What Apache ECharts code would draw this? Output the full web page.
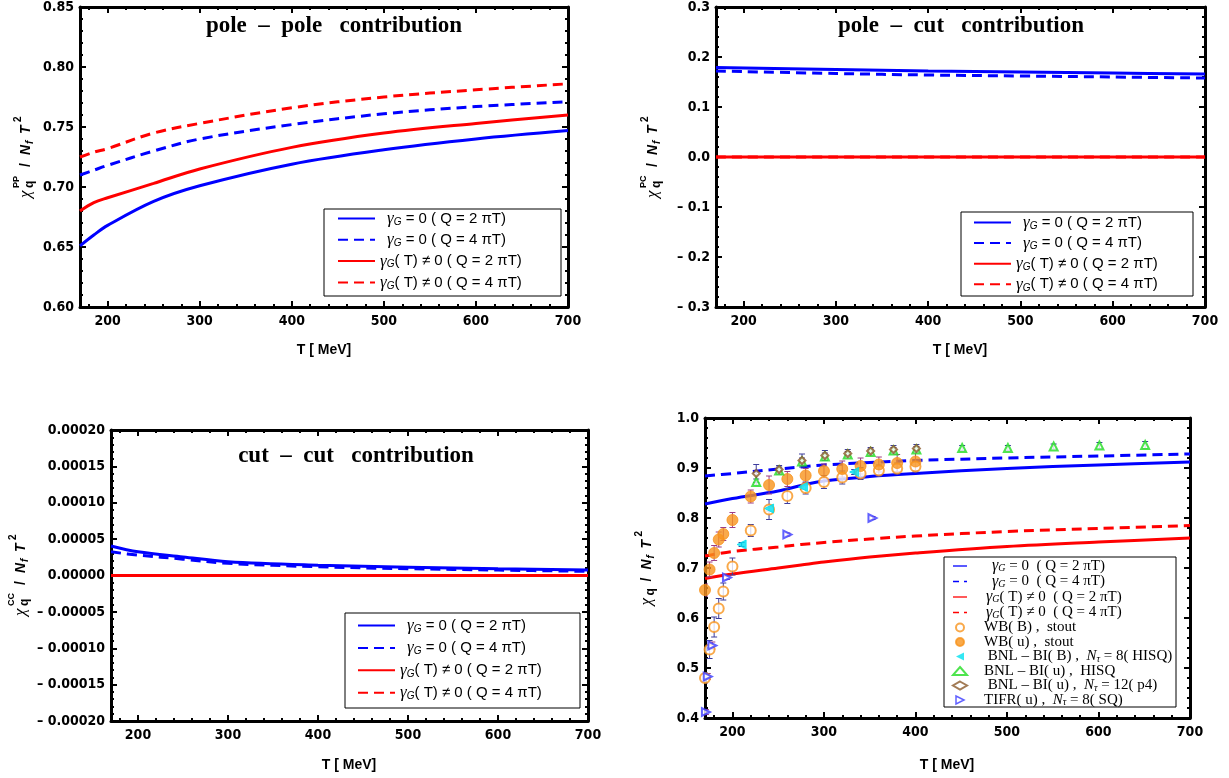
<!DOCTYPE html>
<html><head><meta charset="utf-8">
<script src="https://cdn.jsdelivr.net/npm/echarts@6/dist/echarts.min.js"></script>
<style>html,body{margin:0;padding:0;background:#fff}#c{width:1229px;height:778px}</style>
</head><body><div id="c"></div>
<script>
// ---------------- DATA ----------------
const X_MAJOR = [200, 300, 400, 500, 600, 700];
const Y_TICKS_PP = [0.60, 0.65, 0.70, 0.75, 0.80, 0.85];
const Y_TICKS_PC = [-0.3, -0.2, -0.1, 0.0, 0.1, 0.2, 0.3];
const Y_TICKS_CC = [-0.0002, -0.00015, -0.0001, -0.00005, 0, 0.00005, 0.0001, 0.00015, 0.0002];
const Y_TICKS_TOT = [0.4, 0.5, 0.6, 0.7, 0.8, 0.9, 1.0];

// pole-pole
const T_PP = [170, 185, 200, 250, 300, 400, 500, 600, 700];
const pp_blue_Q2 = [0.651, 0.660, 0.668, 0.688, 0.701, 0.719, 0.731, 0.740, 0.747];
const pp_blue_Q4 = [0.710, 0.714, 0.718, 0.730, 0.740, 0.752, 0.761, 0.767, 0.771];
const pp_red_Q2  = [0.680, 0.687, 0.691, 0.703, 0.715, 0.733, 0.745, 0.753, 0.760];
const pp_red_Q4  = [0.725, 0.729, 0.732, 0.745, 0.753, 0.766, 0.775, 0.781, 0.786];
// pole-cut
const T_PC = [170, 300, 400, 500, 600, 700];
const pc_blue_Q2 = [0.179, 0.175, 0.172, 0.170, 0.168, 0.166];
const pc_blue_Q4 = [0.172, 0.167, 0.164, 0.162, 0.160, 0.158];
const pc_red_Q2  = [0, 0, 0, 0, 0, 0];
const pc_red_Q4  = [0, 0, 0, 0, 0, 0];
// cut-cut
const T_CC = [170, 200, 250, 300, 400, 500, 600, 700];
const cc_blue_Q2 = [4.05e-5, 3.25e-5, 2.55e-5, 1.90e-5, 1.42e-5, 1.15e-5, 0.93e-5, 0.75e-5];
const cc_blue_Q4 = [3.25e-5, 2.80e-5, 2.25e-5, 1.67e-5, 1.20e-5, 0.93e-5, 0.74e-5, 0.57e-5];
const cc_red_Q2  = [0, 0, 0, 0, 0, 0, 0, 0];
const cc_red_Q4  = [0, 0, 0, 0, 0, 0, 0, 0];
// total
const T_TOT = [170, 200, 250, 275, 300, 350, 400, 500, 600, 700];
const tot_blue_Q2 = [0.828, 0.839, 0.854, 0.865, 0.874, 0.883, 0.889, 0.899, 0.906, 0.912];
const tot_blue_Q4 = [0.884, 0.889, 0.898, 0.902, 0.906, 0.911, 0.915, 0.920, 0.924, 0.928];
const tot_red_Q2  = [0.679, 0.688, 0.700, 0.706, 0.712, 0.722, 0.730, 0.743, 0.752, 0.760];
const tot_red_Q4  = [0.724, 0.733, 0.742, 0.747, 0.751, 0.758, 0.764, 0.773, 0.779, 0.785];

// lattice data
const wbB_T   = [170, 175, 180, 185, 190, 200, 220, 240, 260, 280, 300, 320, 340, 360, 380, 400];
const wbB_val = [0.480, 0.537, 0.582, 0.619, 0.653, 0.703, 0.775, 0.817, 0.844, 0.860, 0.872, 0.881, 0.889, 0.895, 0.899, 0.903];
const wbB_err = [0.010, 0.018, 0.020, 0.020, 0.017, 0.017, 0.012, 0.020, 0.015, 0.012, 0.013, 0.013, 0.012, 0.011, 0.011, 0.011];
const wbU_T   = [170, 175, 180, 185, 190, 200, 220, 240, 260, 280, 300, 320, 340, 360, 380, 400];
const wbU_val = [0.656, 0.697, 0.730, 0.757, 0.768, 0.796, 0.843, 0.866, 0.878, 0.885, 0.894, 0.898, 0.904, 0.907, 0.910, 0.913];
const wbU_err = [0.012, 0.015, 0.015, 0.015, 0.013, 0.015, 0.013, 0.018, 0.015, 0.014, 0.014, 0.016, 0.016, 0.015, 0.017, 0.018];
const bnlB_T   = [210, 240, 277, 333];
const bnlB_val = [0.747, 0.819, 0.862, 0.892];
const bnlB_err = [0.004, 0.005, 0.005, 0.005];
const hisq_T   = [226, 251, 276, 301, 326, 351, 376, 401, 451, 501, 551, 601, 651];
const hisq_val = [0.872, 0.895, 0.913, 0.923, 0.927, 0.932, 0.935, 0.937, 0.940, 0.940, 0.943, 0.945, 0.946];
const hisq_err = [0.006, 0.007, 0.007, 0.007, 0.006, 0.006, 0.006, 0.006, 0.005, 0.005, 0.005, 0.006, 0.007];
const p4_T   = [226, 251, 276, 301, 326, 351, 376, 401];
const p4_val = [0.889, 0.897, 0.915, 0.925, 0.929, 0.934, 0.937, 0.939];
const p4_err = [0.018, 0.008, 0.013, 0.010, 0.008, 0.007, 0.008, 0.008];
const tifr_T   = [171, 173, 178, 194, 260, 353];
const tifr_val = [0.412, 0.483, 0.545, 0.681, 0.767, 0.800];
const tifr_err = [0.005, 0.006, 0.007, 0.004, 0.003, 0.003];

// ---------------- HELPERS ----------------
const NUM_FONT = '"Liberation Sans Narrow", "DejaVu Sans Condensed", "Liberation Sans", Arial, sans-serif';
const SANS = '"Liberation Sans", Arial, sans-serif';
const SERIF = '"Liberation Serif", "Times New Roman", serif';
const BLUE = '#0000ff', RED = '#ff0000';
const DASH = [10, 6];

function zip(xs, ys) { return xs.map((x, i) => [x, ys[i]]); }
function zip3(xs, ys, es) { return xs.map((x, i) => [x, ys[i], es[i]]); }
function minorTicks(min, max, step, majors) {
  const out = []; const n = Math.round((max - min) / step);
  for (let i = 0; i <= n; i++) {
    const v = +(min + i * step).toPrecision(10);
    if (!majors.some(m => Math.abs(m - v) < step / 10)) out.push(v);
  }
  return out;
}
const X_MINOR = minorTicks(180, 700, 20, X_MAJOR);
const negFmt = d => v => (v < -1e-12 ? '\u2013 ' + (-v).toFixed(d) : Math.abs(v).toFixed(d));

const panels = [
  { grid: { left: 80, top: 7, width: 488, height: 300 }, min: 0.6, max: 0.85, major: Y_TICKS_PP, minor: minorTicks(0.6, 0.85, 0.01, Y_TICKS_PP), fmt: negFmt(2) },
  { grid: { left: 716, top: 7, width: 489, height: 300 }, min: -0.3, max: 0.3, major: Y_TICKS_PC, minor: minorTicks(-0.3, 0.3, 0.02, Y_TICKS_PC), fmt: negFmt(1) },
  { grid: { left: 111, top: 430, width: 477, height: 291 }, min: -0.0002, max: 0.0002, major: Y_TICKS_CC, minor: minorTicks(-0.0002, 0.0002, 0.00001, Y_TICKS_CC), fmt: negFmt(5) },
  { grid: { left: 705, top: 418, width: 485, height: 300 }, min: 0.4, max: 1.0, major: Y_TICKS_TOT, minor: minorTicks(0.4, 1.0, 0.02, Y_TICKS_TOT), fmt: negFmt(1) }
];

const grid = [], xAxis = [], yAxis = [];
const lineMain = { show: true, onZero: false, lineStyle: { color: '#000', width: 3 } };
const tickStyle = { color: '#000', width: 2 };
panels.forEach((p, g) => {
  grid.push(Object.assign({ outerBoundsMode: 'none', containLabel: false }, p.grid));
  const xb = { type: 'value', gridIndex: g, min: 170, max: 700, splitLine: { show: false } };
  xAxis.push(Object.assign({}, xb, { position: 'bottom', axisLine: lineMain,
    axisTick: { show: true, inside: true, length: 6, lineStyle: tickStyle, customValues: X_MAJOR },
    axisLabel: { show: true, customValues: X_MAJOR, margin: 7, color: '#000', fontWeight: 'bold', fontSize: 14, fontFamily: NUM_FONT } }));
  xAxis.push(Object.assign({}, xb, { position: 'bottom', axisLine: { show: false, onZero: false },
    axisTick: { show: true, inside: true, length: 3, lineStyle: tickStyle, customValues: X_MINOR }, axisLabel: { show: false } }));
  xAxis.push(Object.assign({}, xb, { position: 'top', axisLine: lineMain,
    axisTick: { show: true, inside: true, length: 6, lineStyle: tickStyle, customValues: X_MAJOR }, axisLabel: { show: false } }));
  xAxis.push(Object.assign({}, xb, { position: 'top', axisLine: { show: false, onZero: false },
    axisTick: { show: true, inside: true, length: 3, lineStyle: tickStyle, customValues: X_MINOR }, axisLabel: { show: false } }));

  const yb = { type: 'value', gridIndex: g, min: p.min, max: p.max, splitLine: { show: false } };
  yAxis.push(Object.assign({}, yb, { position: 'left', axisLine: lineMain,
    axisTick: { show: true, inside: true, length: 6, lineStyle: tickStyle, customValues: p.major },
    axisLabel: { show: true, customValues: p.major, margin: 6, color: '#000', fontWeight: 'bold', fontSize: 14, fontFamily: NUM_FONT, formatter: p.fmt } }));
  yAxis.push(Object.assign({}, yb, { position: 'left', axisLine: { show: false, onZero: false },
    axisTick: { show: true, inside: true, length: 3, lineStyle: tickStyle, customValues: p.minor }, axisLabel: { show: false } }));
  yAxis.push(Object.assign({}, yb, { position: 'right', axisLine: lineMain,
    axisTick: { show: true, inside: true, length: 6, lineStyle: tickStyle, customValues: p.major }, axisLabel: { show: false } }));
  yAxis.push(Object.assign({}, yb, { position: 'right', axisLine: { show: false, onZero: false },
    axisTick: { show: true, inside: true, length: 3, lineStyle: tickStyle, customValues: p.minor }, axisLabel: { show: false } }));
});

function curve(name, g, T, V, color, dashed) {
  return { name, type: 'line', xAxisIndex: g * 4, yAxisIndex: g * 4, data: zip(T, V), showSymbol: false,
    smooth: 0.35, symbol: 'none', z: 3, lineStyle: { color, width: 3, type: dashed ? DASH : 'solid' }, itemStyle: { color } };
}
function errBars(name, T, V, E, color) {
  return { name, type: 'custom', xAxisIndex: 12, yAxisIndex: 12, data: zip3(T, V, E), clip: true, z: 4,
    encode: { x: 0, y: 1 },
    renderItem: function (params, api) {
      const x = api.value(0), y = api.value(1), e = api.value(2);
      const a = api.coord([x, y + e]), b = api.coord([x, y - e]);
      const w = 3, st = { stroke: color, lineWidth: 1 };
      return { type: 'group', children: [
        { type: 'line', shape: { x1: a[0], y1: a[1], x2: b[0], y2: b[1] }, style: st },
        { type: 'line', shape: { x1: a[0] - w, y1: a[1], x2: a[0] + w, y2: a[1] }, style: st },
        { type: 'line', shape: { x1: b[0] - w, y1: b[1], x2: b[0] + w, y2: b[1] }, style: st } ] };
    } };
}
function pts(name, T, V, symbol, size, color, rotate) {
  return { name, type: 'scatter', xAxisIndex: 12, yAxisIndex: 12, data: zip(T, V), symbol, symbolSize: size,
    symbolRotate: rotate || 0, clip: true, z: 5, itemStyle: { color, borderColor: color, borderWidth: 1 } };
}

const series = [
  curve('pp1', 0, T_PP, pp_blue_Q2, BLUE, false), curve('pp2', 0, T_PP, pp_blue_Q4, BLUE, true),
  curve('pp3', 0, T_PP, pp_red_Q2, RED, false), curve('pp4', 0, T_PP, pp_red_Q4, RED, true),
  curve('pc1', 1, T_PC, pc_blue_Q2, BLUE, false), curve('pc2', 1, T_PC, pc_blue_Q4, BLUE, true),
  curve('pc3', 1, T_PC, pc_red_Q2, RED, false), curve('pc4', 1, T_PC, pc_red_Q4, RED, true),
  curve('cc1', 2, T_CC, cc_blue_Q2, BLUE, false), curve('cc2', 2, T_CC, cc_blue_Q4, BLUE, true),
  curve('cc3', 2, T_CC, cc_red_Q2, RED, false), curve('cc4', 2, T_CC, cc_red_Q4, RED, true),
  curve('tt1', 3, T_TOT, tot_blue_Q2, BLUE, false), curve('tt2', 3, T_TOT, tot_blue_Q4, BLUE, true),
  curve('tt3', 3, T_TOT, tot_red_Q2, RED, false), curve('tt4', 3, T_TOT, tot_red_Q4, RED, true),
  errBars('e_wbB', wbB_T, wbB_val, wbB_err, '#3d3d9e'),
  errBars('e_wbU', wbU_T, wbU_val, wbU_err, '#9c3d86'),
  errBars('e_bnlB', bnlB_T, bnlB_val, bnlB_err, '#3d3d9e'),
  errBars('e_hisq', hisq_T, hisq_val, hisq_err, '#3d3d9e'),
  errBars('e_p4', p4_T, p4_val, p4_err, '#3d3d9e'),
  errBars('e_tifr', tifr_T, tifr_val, tifr_err, '#9c3d86'),
  pts('wbB', wbB_T, wbB_val, 'emptyCircle', 10, '#f7941d'),
  pts('wbU', wbU_T, wbU_val, 'circle', 11, '#f7941d'),
  pts('bnlB', bnlB_T, bnlB_val, 'triangle', 9, '#00e1f0', 90),
  pts('hisq', hisq_T, hisq_val, 'emptyTriangle', 8, '#22dd22'),
  pts('p4', p4_T, p4_val, 'emptyDiamond', 7, '#8b5a2b'),
  pts('tifr', tifr_T, tifr_val, 'emptyTriangle', 8, '#3a3aff', -90)
];

// legends
const RICH_SANS = {
  t: { fontFamily: SANS, fontSize: 15, color: '#000', lineHeight: 18 },
  g: { fontFamily: SERIF, fontStyle: 'italic', fontSize: 17, color: '#000', lineHeight: 18 },
  s: { fontFamily: SANS, fontStyle: 'italic', fontSize: 10, color: '#000', lineHeight: 10, padding: [7, 0, 0, 0] },
  p: { width: 7 }
};
const RICH_SERIF = {
  t: { fontFamily: SERIF, fontSize: 15, color: '#000', lineHeight: 14 },
  g: { fontFamily: SERIF, fontStyle: 'italic', fontSize: 16, color: '#000', lineHeight: 14 },
  i: { fontFamily: SERIF, fontStyle: 'italic', fontSize: 15, color: '#000', lineHeight: 14 },
  s: { fontFamily: SERIF, fontStyle: 'italic', fontSize: 10, color: '#000', lineHeight: 9, padding: [5, 0, 0, 0] },
  p: { width: 12 }, q: { width: 20 }, r: { width: 14 }
};
const TXT_A = {
  1: '{p| }{g|\u03b3}{s|G}{t| = 0 ( Q = 2 \u03c0T)}',
  2: '{p| }{g|\u03b3}{s|G}{t| = 0 ( Q = 4 \u03c0T)}',
  3: '{g|\u03b3}{s|G}{t|( T) \u2260 0 ( Q = 2 \u03c0T)}',
  4: '{g|\u03b3}{s|G}{t|( T) \u2260 0 ( Q = 4 \u03c0T)}'
};
const TXT_B = {
  tt1: '{q| }{g|\u03b3}{s|G}{t| = 0  ( Q = 2 \u03c0T)}',
  tt2: '{q| }{g|\u03b3}{s|G}{t| = 0  ( Q = 4 \u03c0T)}',
  tt3: '{r| }{g|\u03b3}{s|G}{t|( T) \u2260 0  ( Q = 2 \u03c0T)}',
  tt4: '{r| }{g|\u03b3}{s|G}{t|( T) \u2260 0  ( Q = 4 \u03c0T)}',
  wbB: '{p| }{t|WB( B) ,  stout}',
  wbU: '{p| }{t|WB( u) ,  stout}',
  bnlB: '{p| }{t| BNL \u2013 BI( B) ,  }{i|N}{s|\u03c4}{t| = 8( HISQ)}',
  hisq: '{p| }{t|BNL \u2013 BI( u) ,  HISQ}',
  p4: '{p| }{t| BNL \u2013 BI( u) ,  }{i|N}{s|\u03c4}{t| = 12( p4)}',
  tifr: '{p| }{t|TIFR( u) ,  }{i|N}{s|\u03c4}{t| = 8( SQ)}'
};
const HIDE_SYM = { opacity: 0 };
function legendA(prefix, left, top, gap) {
  return { show: true, orient: 'vertical', left, top, padding: 0, itemWidth: 37, itemHeight: 14, itemGap: gap,
    selectedMode: false, data: [1, 2, 3, 4].map(i => ({ name: prefix + i, itemStyle: HIDE_SYM })),
    formatter: n => TXT_A[n.slice(-1)], textStyle: { rich: RICH_SANS } };
}
const legend = [
  legendA('pp', 337, 210, 4.3),
  legendA('pc', 973, 214, 3.6),
  legendA('cc', 357, 617, 5.4),
  { show: true, orient: 'vertical', left: 952, top: 558, padding: 0, itemWidth: 14, itemHeight: 8, itemGap: -0.5,
    selectedMode: false,
    data: [
      { name: 'tt1', lineStyle: { color: BLUE, width: 1.3, type: 'solid' }, itemStyle: HIDE_SYM },
      { name: 'tt2', lineStyle: { color: BLUE, width: 1.3, type: [6, 5] }, itemStyle: HIDE_SYM },
      { name: 'tt3', lineStyle: { color: RED, width: 1.3, type: 'solid' }, itemStyle: HIDE_SYM },
      { name: 'tt4', lineStyle: { color: RED, width: 1.3, type: [6, 5] }, itemStyle: HIDE_SYM },
      'wbB', 'wbU',
      { name: 'bnlB', icon: 'path://M0,5L10,0L10,10Z', itemStyle: { color: '#00e1f0', borderWidth: 0 } },
      'hisq', 'p4',
      { name: 'tifr', icon: 'path://M10,5L0,0L0,10Z', itemStyle: { color: '#ffffff', borderColor: '#3a3aff', borderWidth: 1.5 } }],
    formatter: n => TXT_B[n], textStyle: { rich: RICH_SERIF } }
];

// y-axis names (rotated, composed)
function yName(cx, cy, sup) {
  const parts = sup ? [
    { t: '\u03c7', x: 0, y: 0, f: 'italic 17px ' + SERIF },
    { t: 'q', x: 10, y: 4, f: 'bold 12px ' + SANS },
    { t: sup, x: 10, y: -9, f: 'bold 9px ' + SANS },
    { t: '/', x: 31, y: 0, f: 'bold 14px ' + SANS },
    { t: 'N', x: 43, y: 0, f: 'bold italic 14px ' + SANS },
    { t: 'f', x: 54, y: 4, f: 'bold italic 10px ' + SANS },
    { t: 'T', x: 64, y: 0, f: 'bold italic 14px ' + SANS },
    { t: '2', x: 76, y: -8, f: 'bold 10px ' + SANS }
  ] : [
    { t: '\u03c7', x: 0, y: 0, f: 'italic 17px ' + SERIF },
    { t: 'q', x: 10, y: 4, f: 'bold 12px ' + SANS },
    { t: '/', x: 24, y: 0, f: 'bold 14px ' + SANS },
    { t: 'N', x: 36, y: 0, f: 'bold italic 14px ' + SANS },
    { t: 'f', x: 47, y: 4, f: 'bold italic 10px ' + SANS },
    { t: 'T', x: 57, y: 0, f: 'bold italic 14px ' + SANS },
    { t: '2', x: 69, y: -8, f: 'bold 10px ' + SANS }
  ];
  const L = sup ? 82 : 75;
  return { type: 'group', x: cx, y: cy, rotation: Math.PI / 2, z: 10,
    children: parts.map(p => ({ type: 'text', x: p.x - L / 2, y: p.y,
      style: { text: p.t, font: p.f, fill: '#000', align: 'left', verticalAlign: 'middle' } })) };
}
function txt(x, y, text, font) {
  return { type: 'text', x, y, z: 10, style: { text, font, fill: '#000', align: 'center', verticalAlign: 'middle' } };
}
const TITLE_FONT = 'bold 23px ' + SERIF;
const XN_FONT = 'bold 14px ' + SANS;
const graphic = [
  txt(334, 26, 'pole  \u2013  pole   contribution', TITLE_FONT),
  txt(961, 26, 'pole  \u2013  cut   contribution', TITLE_FONT),
  txt(356, 456, 'cut  \u2013  cut   contribution', TITLE_FONT),
  txt(324, 350, 'T [ MeV]', XN_FONT),
  txt(960, 350, 'T [ MeV]', XN_FONT),
  txt(349, 765, 'T [ MeV]', XN_FONT),
  txt(947, 765, 'T [ MeV]', XN_FONT),
  yName(26, 157, 'PP'), yName(653, 157, 'PC'), yName(21, 575, 'CC'), yName(647, 568, ''),
  { type: 'rect', shape: { x: 324, y: 209, width: 237, height: 87 }, z: 3, style: { fill: 'none', stroke: '#000', lineWidth: 1 } },
  { type: 'rect', shape: { x: 961, y: 212, width: 232, height: 84 }, z: 3, style: { fill: 'none', stroke: '#000', lineWidth: 1 } },
  { type: 'rect', shape: { x: 345, y: 613, width: 235, height: 95 }, z: 3, style: { fill: 'none', stroke: '#000', lineWidth: 1 } },
  { type: 'rect', shape: { x: 944, y: 557, width: 232, height: 150 }, z: 3, style: { fill: 'none', stroke: '#000', lineWidth: 1 } }
];

const chart = echarts.init(document.getElementById('c'), null, { renderer: 'canvas' });
chart.setOption({ animation: false, backgroundColor: '#fff', grid, xAxis, yAxis, series, legend, graphic });
</script></body></html>
